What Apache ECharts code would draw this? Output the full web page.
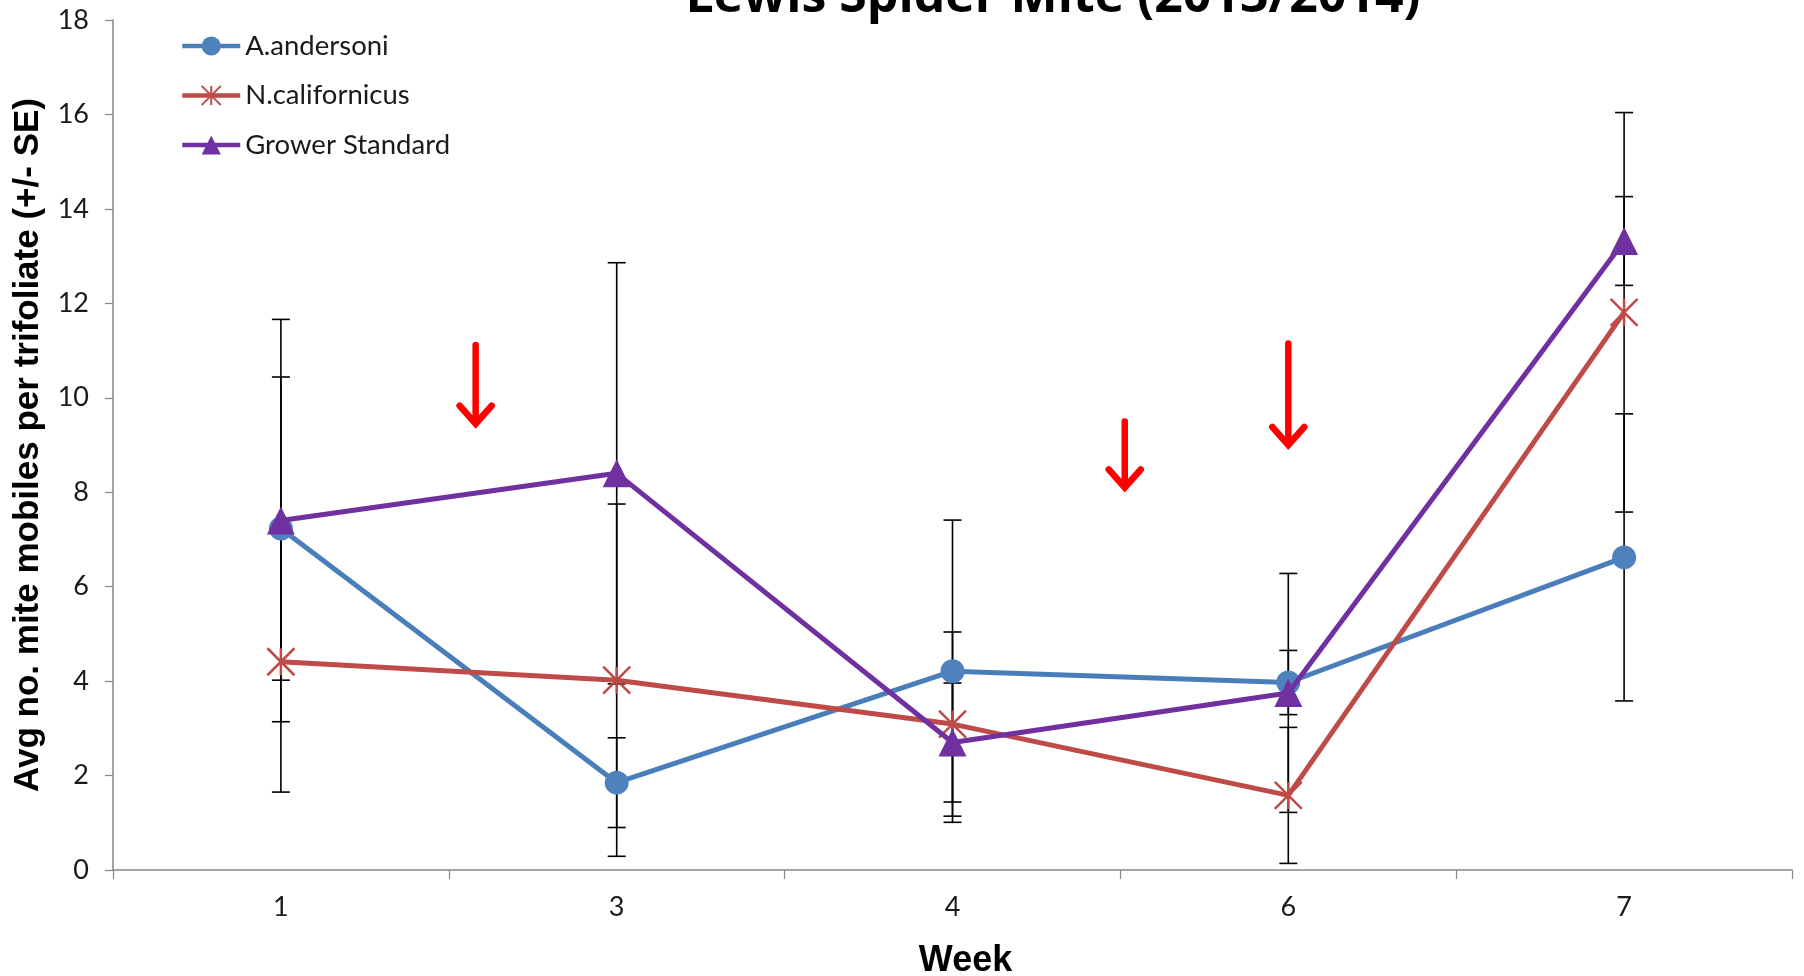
<!DOCTYPE html>
<html>
<head>
<meta charset="utf-8">
<script src="https://cdn.jsdelivr.net/npm/echarts@6/dist/echarts.min.js"></script>
<style>
html,body{margin:0;padding:0;background:#fff;}
#chart{width:1804px;height:976px;}
</style>
</head>
<body>
<div id="chart"></div>
<script>
// ---- data ----
const weeks = ['1', '3', '4', '6', '7'];
const andersoni = [7.23, 1.85, 4.21, 3.97, 6.62];
const andersoniSE = [3.21, 0.95, 3.20, 0.68, 3.04];
const californicus = [4.41, 4.02, 3.09, 1.58, 11.81];
const californicusSE = [2.76, 3.73, 1.95, 1.44, 4.23];
const grower = [7.40, 8.40, 2.70, 3.75, 13.32];
const growerSE = [4.26, 4.46, 1.26, 2.53, 0.94];
const yTicks = [0, 2, 4, 6, 8, 10, 12, 14, 16, 18];
// treatment arrows: [category index, fraction toward next category, y start, y end]
const arrows = [[0, 0.58, 11.12, 9.45], [2, 0.513, 9.5, 8.1], [3, 0.0, 11.15, 9.0]];

const names = ['A.andersoni', 'N.californicus', 'Grower Standard'];
const colors = ['#4A7EBB', '#BE4B48', '#7030A0'];

function errData(vals, se) {
  return vals.map((v, i) => [i, v, se[i]]);
}

const errRender = function (params, api) {
  const x = api.value(0), v = api.value(1), e = api.value(2);
  const top = api.coord([x, v + e]);
  const bot = api.coord([x, v - e]);
  const hw = 9;
  const st = { stroke: '#000', lineWidth: 1.6 };
  return {
    type: 'group',
    children: [
      { type: 'line', shape: { x1: top[0], y1: top[1], x2: bot[0], y2: bot[1] }, style: st },
      { type: 'line', shape: { x1: top[0] - hw, y1: top[1], x2: top[0] + hw, y2: top[1] }, style: st },
      { type: 'line', shape: { x1: bot[0] - hw, y1: bot[1], x2: bot[0] + hw, y2: bot[1] }, style: st }
    ]
  };
};

const arrowRender = function (params, api) {
  const i = api.value(0), f = api.value(1), y1 = api.value(2), y2 = api.value(3);
  const a0 = api.coord([i, y1]);
  const a1 = api.coord([i + 1, y1]);
  const x = a0[0] + f * (a1[0] - a0[0]);
  const py1 = a0[1];
  const py2 = api.coord([i, y2])[1];
  const st = { stroke: '#FF0000', lineWidth: 6.5, lineCap: 'round', lineJoin: 'miter', fill: null };
  return {
    type: 'group',
    children: [
      { type: 'line', shape: { x1: x, y1: py1, x2: x, y2: py2 - 3 }, style: st },
      { type: 'polyline', shape: { points: [[x - 16, py2 - 18], [x, py2], [x + 16, py2 - 18]] }, style: st }
    ]
  };
};

const starPath = 'path://M0,0L20,20M20,0L0,20M10,0L10,20';

const chart = echarts.init(document.getElementById('chart'));
const labelFont = 'Lato';

chart.setOption({
  animation: false,
  backgroundColor: '#ffffff',
  graphic: [{
    type: 'text',
    style: {
      text: 'Lewis Spider Mite (2013/2014)',
      x: 1053, y: -2,
      align: 'center', verticalAlign: 'middle',
      font: 'bold 50px "Open Sans"',
      fill: '#000'
    }
  }],
  grid: { left: 113, right: 12, top: 20, bottom: 106, containLabel: false, outerBoundsMode: 'none' },
  legend: {
    data: names,
    orient: 'vertical',
    left: 175,
    top: 27,
    padding: 5,
    itemWidth: 58,
    itemHeight: 24,
    itemGap: 21.5,
    selectedMode: false,
    lineStyle: { width: 4.5 },
    textStyle: { fontFamily: labelFont, fontSize: 27.5, color: '#1a1a1a' }
  },
  xAxis: {
    type: 'category',
    data: weeks,
    boundaryGap: true,
    name: 'Week',
    nameLocation: 'middle',
    nameGap: 73,
    nameTextStyle: { fontFamily: 'Liberation Sans', fontWeight: 'bold', fontSize: 36, color: '#000', padding: [0, 0, 0, 26] },
    axisLine: { lineStyle: { color: '#868686', width: 1.5 } },
    axisTick: { show: true, alignWithLabel: false, length: 9, lineStyle: { color: '#868686', width: 1.2 } },
    axisLabel: { fontFamily: labelFont, fontSize: 27, color: '#1a1a1a', margin: 24 },
    splitLine: { show: false }
  },
  yAxis: {
    type: 'value',
    min: yTicks[0],
    max: yTicks[yTicks.length - 1],
    interval: yTicks[1] - yTicks[0],
    name: 'Avg no. mite mobiles per trifoliate (+/- SE)',
    nameLocation: 'middle',
    nameGap: 67,
    nameTextStyle: { fontFamily: 'Liberation Sans', fontWeight: 'bold', fontSize: 35, color: '#000' },
    axisLine: { show: true, lineStyle: { color: '#868686', width: 1.5 } },
    axisTick: { show: true, length: 8, lineStyle: { color: '#868686', width: 1.2 } },
    axisLabel: { fontFamily: labelFont, fontSize: 27, color: '#1a1a1a', margin: 24 },
    splitLine: { show: false }
  },
  series: [
    { type: 'custom', name: 'errA', renderItem: errRender, data: errData(andersoni, andersoniSE), z: 1, silent: true, encode: { x: 0, y: 1 } },
    { type: 'custom', name: 'errN', renderItem: errRender, data: errData(californicus, californicusSE), z: 1, silent: true, encode: { x: 0, y: 1 } },
    { type: 'custom', name: 'errG', renderItem: errRender, data: errData(grower, growerSE), z: 1, silent: true, encode: { x: 0, y: 1 } },
    {
      type: 'line', name: names[0], data: andersoni, z: 3,
      symbol: 'circle', symbolSize: 24,
      lineStyle: { color: colors[0], width: 5 },
      itemStyle: { color: '#4F81BD', borderWidth: 0 }
    },
    {
      type: 'line', name: names[1], data: californicus, z: 3,
      symbol: starPath, symbolSize: 27,
      lineStyle: { color: colors[1], width: 5 },
      itemStyle: { color: colors[1], borderColor: colors[1], borderWidth: 2.5 }
    },
    {
      type: 'line', name: names[2], data: grower, z: 4,
      symbol: 'triangle', symbolSize: 28,
      lineStyle: { color: colors[2], width: 5 },
      itemStyle: { color: colors[2], borderWidth: 0 }
    },
    { type: 'custom', name: 'arrows', renderItem: arrowRender, data: arrows, z: 5, silent: true, clip: false,
      encode: { x: 0, y: 2 } }
  ]
});
</script>
</body>
</html>
